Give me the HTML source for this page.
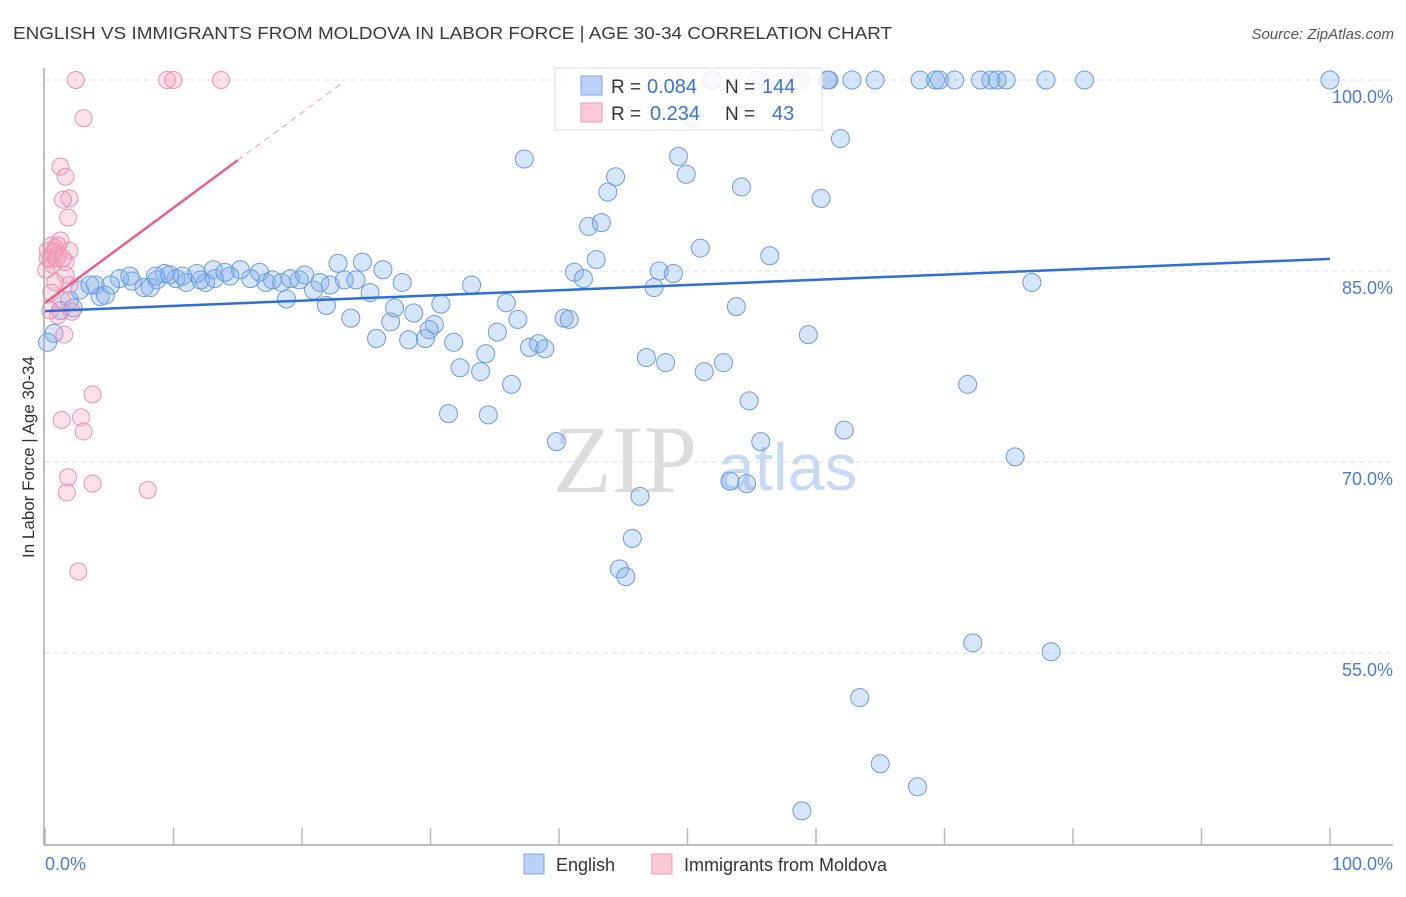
<!DOCTYPE html>
<html><head><meta charset="utf-8"><style>
body{margin:0;background:#fff;font-family:"Liberation Sans",sans-serif}
</style></head><body>
<svg id="chart" width="1406" height="892" xmlns="http://www.w3.org/2000/svg" font-family="Liberation Sans, sans-serif">
<text x="13" y="39" font-size="17.5" fill="#3a3a3a" textLength="879" lengthAdjust="spacingAndGlyphs">ENGLISH VS IMMIGRANTS FROM MOLDOVA IN LABOR FORCE | AGE 30-34 CORRELATION CHART</text>
<text x="1394" y="39" font-size="15" fill="#555" font-style="italic" text-anchor="end">Source: ZipAtlas.com</text>
<text x="553" y="492" font-size="96" fill="#dcdcdc" font-family="Liberation Serif, serif">ZIP</text>
<text x="718" y="490" font-size="66" fill="#c8daf3">atlas</text>
<g id="grid"></g>
<g id="marks"></g>
<line x1="44" y1="68" x2="44" y2="845" stroke="#aaa" stroke-width="1.5"/>
<line x1="44" y1="845" x2="1393" y2="845" stroke="#aaa" stroke-width="1.5"/>
<text transform="translate(34,457) rotate(-90)" font-size="17" fill="#333" text-anchor="middle">In Labor Force | Age 30-34</text>
<text x="45" y="870" font-size="18" fill="#4a7bd8">0.0%</text>
<text x="1393" y="870" font-size="18" fill="#4a7bd8" text-anchor="end">100.0%</text>
<g>
<rect x="555" y="68" width="267" height="62" fill="#fff" fill-opacity="0.85" stroke="#ddd"/>
<rect x="581" y="76" width="21" height="19" fill="#b9d2f5" stroke="#7ea6e6"/>
<rect x="581" y="103" width="21" height="19" fill="#fbcad7" stroke="#ee9ab3"/>
<text x="611" y="93" font-size="19" fill="#333">R =</text>
<text x="647" y="93" font-size="20" fill="#3a72d6">0.084</text>
<text x="725" y="93" font-size="19" fill="#333">N =</text>
<text x="762" y="93" font-size="20" fill="#3a72d6">144</text>
<text x="611" y="120" font-size="19" fill="#333">R =</text>
<text x="650" y="120" font-size="20" fill="#3a72d6">0.234</text>
<text x="725" y="120" font-size="19" fill="#333">N =</text>
<text x="772" y="120" font-size="20" fill="#3a72d6">43</text>
</g>
<g>
<rect x="524" y="854" width="20" height="20" fill="#b9d2f5" stroke="#7ea6e6"/>
<text x="556" y="871" font-size="18" fill="#333">English</text>
<rect x="652" y="854" width="20" height="20" fill="#fbcad7" stroke="#ee9ab3"/>
<text x="684" y="871" font-size="18" fill="#333">Immigrants from Moldova</text>
</g>
</svg>
<script>
const yTicks=[100,85,70,55];
const yTickLabels=["100.0%","85.0%","70.0%","55.0%"];
const xTicks=[0,10,20,30,40,50,60,70,80,90,100];
const englishX=[51.9,55.4,58.8,60.9,61.0,62.8,64.6,68.1,69.3,69.6,70.8,72.8,73.6,74.1,74.8,77.9,80.9,100,50.4,37.3,49.3,61.9,44.4,49.9,43.8,54.2,60.4,42.3,43.3,51.0,56.4,42.9,41.2,41.9,47.8,48.9,47.4,76.8,53.8,59.4,46.8,48.3,51.3,52.8,71.8,54.8,62.2,55.7,39.8,75.5,53.3,54.6,46.3,45.7,44.7,45.2,72.2,78.3,63.4,65.0,67.9,58.9,22.8,24.7,26.3,27.8,33.2,30.8,35.9,36.8,40.4,40.8,23.8,26.9,28.7,27.2,25.8,28.3,29.6,30.3,29.9,31.8,35.2,37.7,38.4,38.9,34.3,32.3,33.9,36.3,31.4,34.5,18.8,21.9,20.9,19.8,21.4,22.2,23.3,24.2,25.3,18.4,17.2,16.0,15.2,14.4,13.1,12.5,11.8,11.0,10.2,9.3,8.7,7.7,6.8,5.8,5.1,3.9,2.7,1.9,4.3,4.7,8.2,8.6,9.7,10.7,12.1,13.2,14.0,16.7,17.7,19.1,20.2,0.7,0.2,1.2,2.2,3.5,6.6];
const englishY=[100,100,100,100,100,100,100,100,100,100,100,100,100,100,100,100,100,100,97.0,93.8,94.0,95.4,92.4,92.6,91.2,91.6,90.7,88.5,88.8,86.8,86.2,85.9,84.9,84.4,85.0,84.8,83.7,84.1,82.2,80.0,78.2,77.8,77.1,77.8,76.1,74.8,72.5,71.6,71.6,70.4,68.5,68.3,67.3,64.0,61.6,61.0,55.8,55.1,51.5,46.3,44.5,42.6,85.6,85.7,85.1,84.1,83.9,82.4,82.5,81.2,81.3,81.2,81.3,81.0,81.7,82.1,79.7,79.6,79.7,80.8,80.4,79.4,80.2,79.0,79.3,78.9,78.5,77.4,77.1,76.1,73.8,73.7,82.8,82.3,83.5,84.3,84.1,83.9,84.3,84.3,83.3,84.1,84.1,84.4,85.1,84.6,85.1,84.1,84.8,84.1,84.4,84.8,84.3,83.7,84.2,84.4,83.9,83.9,83.5,82.7,83.0,83.1,83.7,84.6,84.7,84.6,84.3,84.4,84.9,84.9,84.3,84.4,84.7,80.1,79.4,81.9,82.1,83.9,84.6];
const moldovaX=[2.4,9.5,10.0,13.7,3.0,1.2,1.6,1.9,1.4,1.8,0.2,0.5,0.8,1.0,0.4,0.6,1.2,1.9,0.2,0.9,1.6,1.6,0.8,1.9,0.5,1.3,1.0,2.1,1.5,0.4,3.7,1.3,2.8,3.0,1.8,1.7,3.7,8.0,2.6,1.0,0.7,1.4,0.1];
const moldovaY=[100,100,100,100,97.0,93.2,92.4,90.7,90.6,89.2,86.6,87.0,86.8,86.3,85.9,85.5,87.4,86.6,86.0,86.0,85.7,84.7,84.1,83.9,83.3,82.7,81.5,81.8,80.0,81.9,75.3,73.3,73.5,72.4,68.8,67.6,68.3,67.8,61.4,87.0,86.5,86.0,85.1];
const englishTrend=[81.85,85.95];
const moldovaTrend=[82.5,93.7];
const moldovaSolidEnd=15;
const moldovaDashEnd=23.2;

const X=v=>45+v*12.85;
const Y=v=>80+(100-v)*191/15;
const NS="http://www.w3.org/2000/svg";
function mk(t,a,p){const e=document.createElementNS(NS,t);for(const k in a)e.setAttribute(k,a[k]);p.appendChild(e);return e;}
const grid=document.getElementById('grid'),marks=document.getElementById('marks');
yTicks.forEach((t,i)=>{
 const l=mk('line',{x1:45,x2:1393,y1:Y(t),y2:Y(t),stroke:'#ddd','stroke-dasharray':'5,4'},grid);
 
 
 const tx=mk('text',{x:1393,y:Y(t)+23,'font-size':18,fill:'#4a7bd8','text-anchor':'end'},grid);
 tx.textContent=yTickLabels[i];
 
 
});
xTicks.forEach(t=>{
 const l=mk('line',{x1:X(t),x2:X(t),y1:828,y2:845,stroke:'#bbb','stroke-width':1.5},grid);
 
 
});
englishX.forEach((x,i)=>{
 const c=mk('circle',{cx:X(x),cy:Y(englishY[i]),r:9,fill:'rgba(130,175,235,0.33)',stroke:'#6c9be3','stroke-width':1},marks);
 
 
});
moldovaX.forEach((x,i)=>{
 const c=mk('circle',{cx:X(x),cy:Y(moldovaY[i]),r:8.5,fill:'rgba(245,165,190,0.33)',stroke:'#ec93ae','stroke-width':1},marks);
 
 
});
const bl=mk('line',{x1:X(0),y1:Y(englishTrend[0]),x2:X(100),y2:Y(englishTrend[1]),stroke:'#2d6fd6','stroke-width':2.5},marks);


const slope=(moldovaTrend[1]-moldovaTrend[0])/moldovaSolidEnd;
const pl=mk('line',{x1:X(0),y1:Y(moldovaTrend[0]),x2:X(moldovaSolidEnd),y2:Y(moldovaTrend[1]),stroke:'#e8608a','stroke-width':2.5},marks);


const pd=mk('line',{x1:X(moldovaSolidEnd),y1:Y(moldovaTrend[1]),x2:X(moldovaDashEnd),y2:Y(moldovaTrend[0]+slope*moldovaDashEnd),stroke:'#eaa0b8','stroke-width':1,'stroke-dasharray':'6,5'},marks);


</script>
</body></html>
